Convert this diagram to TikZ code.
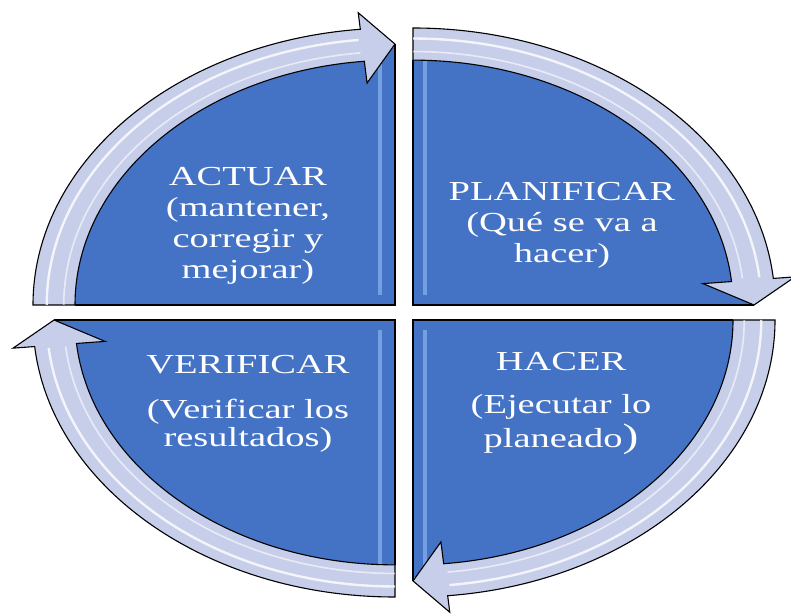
\documentclass[tikz,border=0pt]{standalone}
\usepackage{fontspec}
\setmainfont[FakeStretch=1.4]{Liberation Serif}
\definecolor{qblue}{RGB}{68,114,196}
\definecolor{bandc}{RGB}{199,206,234}
\definecolor{qlight}{RGB}{150,192,242}
\tikzset{
  quad/.style={fill=qblue},
  qedge/.style={draw=black, line width=1.1pt},
  band/.style={fill=bandc, draw=black, line width=1.1pt, line join=miter},
  gloss/.style={draw=white, line width=2.4pt, opacity=0.8},
  gloss2/.style={draw=white, line width=1.6pt, opacity=0.6},
  stripe/.style={draw=qlight, line width=4pt, opacity=0.6},
  txt/.style={text=white, align=center, anchor=north, inner sep=0pt, font=\fontsize{27.5}{31}\selectfont}
}
\begin{document}
\begin{tikzpicture}[x=1pt,y=1pt]
\fill[white] (0,0) rectangle (791,613);
\useasboundingbox (0,0) rectangle (791,613);

% ---------- top left (ACTUAR) ----------
\begin{scope}[shift={(395,308)}]
  \begin{scope}[xscale=362,yscale=277]
    \fill[quad] (0,0) -- (180:0.93) arc[start angle=180, end angle=90, radius=0.93] -- cycle;
  \end{scope}
  \draw[stripe] (-15,10) -- (-15,250);
  \begin{scope}[xscale=362,yscale=277]
    \draw[qedge] (180:0.884) -- (0,0) -- (90:0.942);
    \path[band] (180:1) arc[start angle=180, end angle=95.5, radius=1]
      -- (95.5:1.06) -- (90:0.942) -- (95.5:0.805) -- (95.5:0.884)
      arc[start angle=95.5, end angle=180, radius=0.884] -- cycle;
    \draw[gloss] (180:0.962) arc[start angle=180, end angle=96, radius=0.962];
    \draw[gloss2] (180:0.915) arc[start angle=180, end angle=96, radius=0.915];
  \end{scope}
\end{scope}

% ---------- top right (PLANIFICAR) ----------
\begin{scope}[shift={(413,308)}]
  \begin{scope}[xscale=362,yscale=277]
    \fill[quad] (0,0) -- (90:0.93) arc[start angle=90, end angle=0, radius=0.93] -- cycle;
  \end{scope}
  \draw[stripe] (12,10) -- (12,250);
  \begin{scope}[xscale=362,yscale=277]
    \draw[qedge] (90:0.884) -- (0,0) -- (0:0.942);
    \path[band] (90:1) arc[start angle=90, end angle=5.5, radius=1]
      -- (5.5:1.06) -- (0:0.942) -- (5.5:0.805) -- (5.5:0.884)
      arc[start angle=5.5, end angle=90, radius=0.884] -- cycle;
    \draw[gloss] (90:0.962) arc[start angle=90, end angle=6, radius=0.962];
    \draw[gloss2] (90:0.915) arc[start angle=90, end angle=6, radius=0.915];
  \end{scope}
\end{scope}

% ---------- bottom right (HACER) ----------
\begin{scope}[shift={(413,293)}]
  \begin{scope}[xscale=362,yscale=277]
    \fill[quad] (0,0) -- (0:0.93) arc[start angle=0, end angle=-90, radius=0.93] -- cycle;
  \end{scope}
  \draw[stripe] (12,-10) -- (12,-250);
  \begin{scope}[xscale=362,yscale=277]
    \draw[qedge] (0:0.884) -- (0,0) -- (-90:0.942);
    \path[band] (0:1) arc[start angle=0, end angle=-84.5, radius=1]
      -- (-84.5:1.06) -- (-90:0.942) -- (-84.5:0.805) -- (-84.5:0.884)
      arc[start angle=-84.5, end angle=0, radius=0.884] -- cycle;
    \draw[gloss] (0:0.962) arc[start angle=0, end angle=-84, radius=0.962];
    \draw[gloss2] (0:0.915) arc[start angle=0, end angle=-84, radius=0.915];
  \end{scope}
\end{scope}

% ---------- bottom left (VERIFICAR) ----------
\begin{scope}[shift={(395,293)}]
  \begin{scope}[xscale=362,yscale=277]
    \fill[quad] (0,0) -- (270:0.93) arc[start angle=270, end angle=180, radius=0.93] -- cycle;
  \end{scope}
  \draw[stripe] (-15,-10) -- (-15,-250);
  \begin{scope}[xscale=362,yscale=277]
    \draw[qedge] (270:0.884) -- (0,0) -- (180:0.942);
    \path[band] (270:1) arc[start angle=270, end angle=185.5, radius=1]
      -- (185.5:1.06) -- (180:0.942) -- (185.5:0.805) -- (185.5:0.884)
      arc[start angle=185.5, end angle=270, radius=0.884] -- cycle;
    \draw[gloss] (270:0.962) arc[start angle=270, end angle=186, radius=0.962];
    \draw[gloss2] (270:0.915) arc[start angle=270, end angle=186, radius=0.915];
  \end{scope}
\end{scope}

% ---------- texts ----------
\node[txt] (actuar) at (248,446) {ACTUAR\\(mantener,\\corregir y\\mejorar)};
\node[txt] (planificar) at (562,431) {PLANIFICAR\\(Qué se va a\\hacer)};
\node[txt] (hacer) at (561,261) {HACER\\[12pt](Ejecutar lo\\[3pt]planeado{\fontsize{34}{31}\selectfont)}};
\node[txt] (verificar) at (248,258) {VERIFICAR\\[14pt](Verificar los\\[-3pt]resultados)};
\end{tikzpicture}
\end{document}
